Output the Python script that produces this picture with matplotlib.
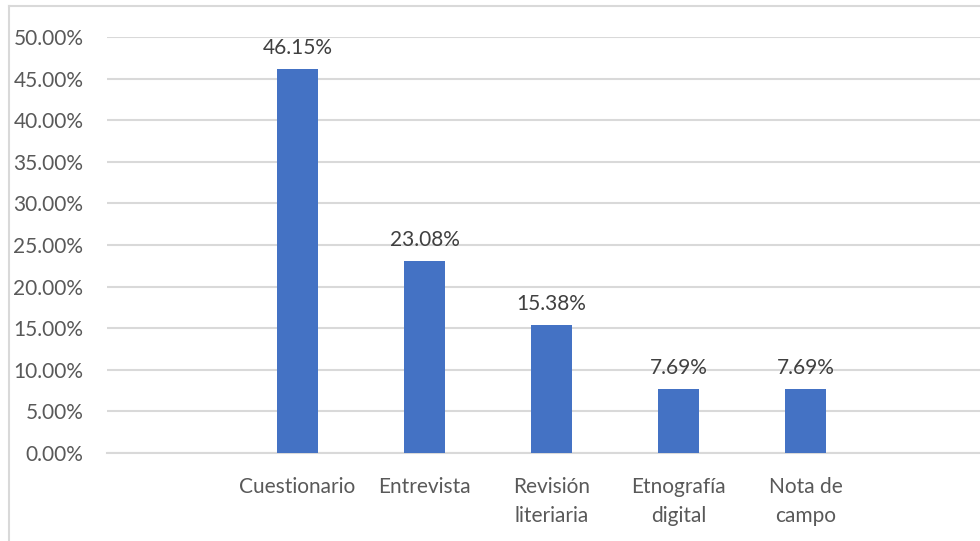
"""Bar chart of data-collection techniques (Excel-style look)."""

import matplotlib

matplotlib.use("Agg")

import matplotlib.pyplot as plt  # noqa: E402
import numpy as np  # noqa: E402
from matplotlib.lines import Line2D  # noqa: E402
from matplotlib.ticker import MultipleLocator, PercentFormatter  # noqa: E402

categories = ["Cuestionario", "Entrevista", "Revisión\nliteriaria",
              "Etnografía\ndigital", "Nota de\ncampo"]
values = [46.15, 23.08, 15.38, 7.69, 7.69]

_BAR = "#4472C4"
_TEXT = "#595959"
_GRID = "#D9D9D9"

plt.rcParams["font.family"] = ["Lato", "DejaVu Sans"]

W, H = 980, 541
fig = plt.figure(figsize=(W / 100, H / 100), dpi=100)

# axes spans past the right edge, the picture is cropped there
left, right, bottom, top = 107, 996, 453, 37
ax = fig.add_axes([left / W, (H - bottom) / H, (right - left) / W, (bottom - top) / H])

x = np.arange(len(categories))
ax.bar(x, values, width=0.315, color=_BAR, zorder=3)
for xi, v in zip(x, values):
    ax.annotate(f"{v:.2f}%", (xi, v), xytext=(0, 8), textcoords="offset points",
                ha="center", va="bottom", fontsize=15, color="#404040")

ax.set_xlim(-1.5, 5.5)
ax.set_ylim(0, 50)
ax.yaxis.set_major_locator(MultipleLocator(5))
ax.yaxis.set_major_formatter(PercentFormatter(decimals=2))
ax.set_xticks(x, categories, linespacing=1.6)
ax.tick_params(axis="both", length=0, labelsize=15, labelcolor=_TEXT)
ax.tick_params(axis="y", pad=17)
ax.tick_params(axis="x", pad=17)
ax.grid(axis="y", color=_GRID, lw=1.5, zorder=0)
for side in ["top", "right", "left"]:
    ax.spines[side].set_visible(False)
ax.spines["bottom"].set_color(_GRID)
ax.spines["bottom"].set_linewidth(1.5)

# chart border (only left and top are inside the crop)
fig.add_artist(Line2D([9 / W, 9 / W], [0, (H - 6) / H], color=_GRID, lw=1.5))
fig.add_artist(Line2D([9 / W, 1], [(H - 6) / H, (H - 6) / H], color=_GRID, lw=1.5))

fig.savefig("out.png", dpi=100)
